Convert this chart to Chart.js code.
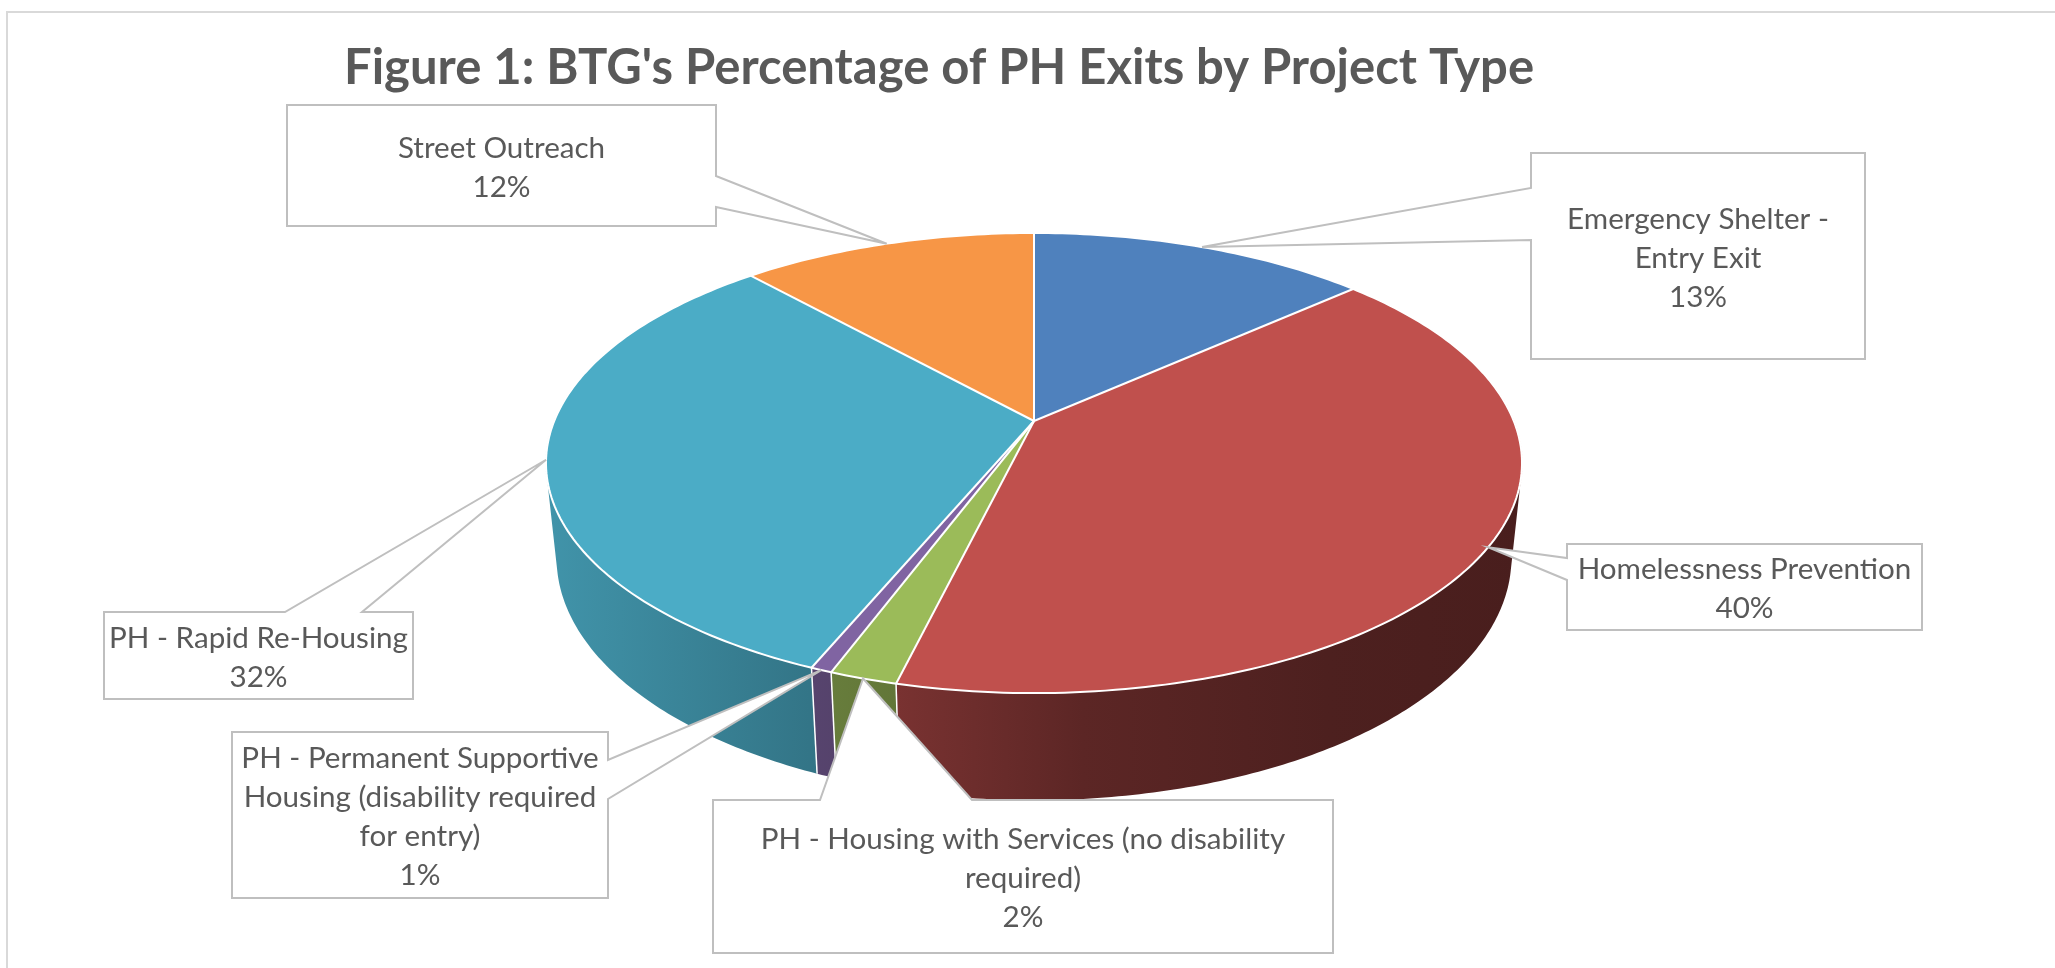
<!DOCTYPE html>
<html>
<head>
<meta charset="utf-8">
<title>Figure 1: BTG's Percentage of PH Exits by Project Type</title>
<script src="https://cdn.jsdelivr.net/npm/chart.js@4.4.1/dist/chart.umd.min.js"></script>
<style>
    html, body { margin: 0; padding: 0; background: #fff; }
    #chartBox { width: 2055px; height: 968px; }
</style>
</head>
<body>
<div id="chartBox"><canvas id="exitsChart" width="2055" height="968"></canvas></div>
<script>
// --- data ---
const projectTypes = [
    'Emergency Shelter - Entry Exit',
    'Homelessness Prevention',
    'PH - Housing with Services (no disability required)',
    'PH - Permanent Supportive Housing (disability required for entry)',
    'PH - Rapid Re-Housing',
    'Street Outreach'
];
const exitShares = [13.4, 40.4, 1.9, 0.6, 32.0, 11.7];
const sliceColors = ['#4F81BD', '#C0504D', '#9BBB59', '#8064A2', '#4BACC6', '#F79646'];
const chartTitle = "Figure 1: BTG's Percentage of PH Exits by Project Type";

// label boxes: [left, top, right, bottom], the side the leader leaves from and where on it
const calloutBoxes = [
    { box: [1531, 153, 1865, 359], side: 'left', base: [188, 240] },
    { box: [1567, 544, 1922, 630], side: 'left', base: [558, 580] },
    { box: [713, 800, 1333, 953], side: 'top', base: [820, 972] },
    { box: [232, 732, 608, 898], side: 'right', base: [760, 799] },
    { box: [104, 612, 413, 699], side: 'top', base: [285, 362] },
    { box: [287, 105, 716, 226], side: 'right', base: [176, 207] }
];

// perspective "camera" for the tilted pie (pie radius = 1)
const view = { x0: 1034, y0: 421, scale: 479.8, sin: 0.4635, cos: 0.8861, dist: 4.85, depth: 0.225 };
// side wall shading from left to right
const sideLight = [[0, 0.86], [0.27, 0.68], [0.36, 0.63], [0.55, 0.48], [0.8, 0.40], [1, 0.38]];

const textColor = '#595959';
const lineColor = '#BFBFBF';

function project(u, v, z) {
    const w = 1 - (view.cos * v + view.sin * z) / view.dist;
    return [view.x0 + view.scale * u / w, view.y0 + view.scale * (view.sin * v - view.cos * z) / w];
}

function shade(hex, f) {
    const n = parseInt(hex.slice(1), 16);
    const r = Math.round(((n >> 16) & 255) * f);
    const g = Math.round(((n >> 8) & 255) * f);
    const b = Math.round((n & 255) * f);
    return `rgb(${r},${g},${b})`;
}

function wrapText(ctx, text, maxWidth) {
    const words = text.split(' ');
    const lines = [];
    let line = '';
    words.forEach(function (w) {
        const test = line ? line + ' ' + w : w;
        if (line && ctx.measureText(test).width > maxWidth) {
            lines.push(line);
            line = w;
        } else {
            line = test;
        }
    });
    if (line) lines.push(line);
    return lines;
}

function drawSides(ctx, arcs) {
    // only the front part of the wall faces the viewer
    const s = 1 / (view.dist * view.cos);
    const aMin = Math.asin(s), aMax = Math.PI - Math.asin(s);
    const gx0 = view.x0 - view.scale * 1.02, gx1 = view.x0 + view.scale * 1.02;

    arcs.forEach(function (arc, i) {
        const a1 = Math.max(arc.startAngle, aMin);
        const a2 = Math.min(arc.endAngle, aMax);
        if (a2 <= a1) return;
        const n = Math.max(2, Math.ceil((a2 - a1) * 80));
        ctx.beginPath();
        for (let k = 0; k <= n; k++) {
            const t = a1 + (a2 - a1) * k / n;
            const p = project(Math.cos(t), Math.sin(t), 0);
            if (k === 0) ctx.moveTo(p[0], p[1]); else ctx.lineTo(p[0], p[1]);
        }
        for (let k = n; k >= 0; k--) {
            const t = a1 + (a2 - a1) * k / n;
            const p = project(Math.cos(t), Math.sin(t), -view.depth);
            ctx.lineTo(p[0], p[1]);
        }
        ctx.closePath();
        const grad = ctx.createLinearGradient(gx0, 0, gx1, 0);
        sideLight.forEach(st => grad.addColorStop(st[0], shade(sliceColors[i], st[1])));
        ctx.fillStyle = grad;
        ctx.fill();
    });

    // white seams between the walls
    ctx.strokeStyle = '#fff';
    ctx.lineWidth = 1.5;
    arcs.forEach(function (arc) {
        const a = arc.startAngle;
        if (a <= aMin || a >= aMax) return;
        const p = project(Math.cos(a), Math.sin(a), 0);
        const q = project(Math.cos(a), Math.sin(a), -view.depth);
        ctx.beginPath();
        ctx.moveTo(p[0], p[1]);
        ctx.lineTo(q[0], q[1]);
        ctx.stroke();
    });
}

function drawTopFace(ctx, chart, arcs) {
    // let Chart.js paint the flat pie off screen, then tilt it row by row
    const off = document.createElement('canvas');
    off.width = chart.width;
    off.height = chart.height;
    const octx = off.getContext('2d');
    arcs.forEach(a => a.draw(octx));

    const cx = arcs[0].x, cy = arcs[0].y, r = arcs[0].outerRadius;
    const A = view.scale * view.sin, C = view.cos / view.dist;
    const yTop = Math.floor(project(0, -1, 0)[1]) - 2;
    const yBot = Math.ceil(project(0, 1, 0)[1]) + 2;
    for (let y = yTop; y <= yBot; y++) {
        const dy = y + 0.5 - view.y0;
        const v = dy / (A + C * dy);
        if (Math.abs(v) > 1.01) continue;
        const k = view.scale / (1 - C * v);
        const dv = A / Math.pow(A + C * dy, 2) * r;
        ctx.drawImage(off, cx - r * 1.02, cy + v * r - dv / 2, r * 2.04, Math.max(dv, 0.5),
            view.x0 - k * 1.02, y, k * 2.04, 1);
    }

    // rim and slice seams
    ctx.strokeStyle = '#fff';
    ctx.lineWidth = 2;
    ctx.beginPath();
    for (let k = 0; k <= 360; k++) {
        const t = k / 360 * Math.PI * 2;
        const p = project(Math.cos(t), Math.sin(t), 0);
        if (k === 0) ctx.moveTo(p[0], p[1]); else ctx.lineTo(p[0], p[1]);
    }
    ctx.stroke();
    const o = project(0, 0, 0);
    arcs.forEach(function (arc) {
        const p = project(Math.cos(arc.startAngle), Math.sin(arc.startAngle), 0);
        ctx.beginPath();
        ctx.moveTo(o[0], o[1]);
        ctx.lineTo(p[0], p[1]);
        ctx.stroke();
    });
}

function drawCallouts(ctx, arcs) {
    const total = exitShares.reduce((s, v) => s + v, 0);
    ctx.font = '29.6px Lato';
    ctx.textAlign = 'center';
    ctx.textBaseline = 'middle';

    calloutBoxes.forEach(function (c, i) {
        const arc = arcs[i];
        const mid = (arc.startAngle + arc.endAngle) / 2;
        const tip = project(Math.cos(mid), Math.sin(mid), 0);
        const [x0, y0, x1, y1] = c.box;
        const [b0, b1] = c.base;
        let pts;
        if (c.side === 'left') {
            pts = [[x0, y0], [x1, y0], [x1, y1], [x0, y1], [x0, b1], tip, [x0, b0]];
        } else if (c.side === 'right') {
            pts = [[x0, y0], [x1, y0], [x1, b0], tip, [x1, b1], [x1, y1], [x0, y1]];
        } else {
            pts = [[x0, y0], [b0, y0], tip, [b1, y0], [x1, y0], [x1, y1], [x0, y1]];
        }
        ctx.beginPath();
        pts.forEach((p, k) => k ? ctx.lineTo(p[0], p[1]) : ctx.moveTo(p[0], p[1]));
        ctx.closePath();
        ctx.fillStyle = '#fff';
        ctx.fill();
        ctx.strokeStyle = lineColor;
        ctx.lineWidth = 2;
        ctx.stroke();

        const lines = wrapText(ctx, projectTypes[i], x1 - x0 - 4);
        lines.push(Math.round(exitShares[i] / total * 100) + '%');
        const lh = 39;
        const cyBox = (y0 + y1) / 2 + 2;
        ctx.fillStyle = textColor;
        lines.forEach(function (txt, k) {
            ctx.fillText(txt, (x0 + x1) / 2, cyBox + (k - (lines.length - 1) / 2) * lh);
        });
    });
}

const pie3d = {
    id: 'pie3d',
    beforeDraw(chart) {
        const ctx = chart.ctx;
        ctx.save();
        ctx.fillStyle = '#fff';
        ctx.fillRect(0, 0, chart.width, chart.height);
        ctx.strokeStyle = '#D9D9D9';
        ctx.lineWidth = 2;
        ctx.strokeRect(7, 12, chart.width + 100, chart.height + 100);
        ctx.fillStyle = textColor;
        ctx.font = 'bold 49px Lato';
        ctx.textAlign = 'center';
        ctx.textBaseline = 'alphabetic';
        ctx.fillText(chartTitle, 939, 84);
        ctx.restore();
    },
    beforeDatasetsDraw(chart) {
        const ctx = chart.ctx;
        const arcs = chart.getDatasetMeta(0).data;
        ctx.save();
        drawSides(ctx, arcs);
        drawTopFace(ctx, chart, arcs);
        ctx.restore();
        return false;
    },
    afterDraw(chart) {
        const ctx = chart.ctx;
        ctx.save();
        drawCallouts(ctx, chart.getDatasetMeta(0).data);
        ctx.restore();
    }
};

new Chart(document.getElementById('exitsChart'), {
    type: 'pie',
    data: {
        labels: projectTypes,
        datasets: [{
            data: exitShares,
            backgroundColor: sliceColors,
            borderWidth: 0
        }]
    },
    options: {
        responsive: false,
        devicePixelRatio: 1,
        animation: false,
        events: [],
        layout: { padding: 20 },
        plugins: {
            legend: { display: false },
            tooltip: { enabled: false },
            title: { display: false }
        }
    },
    plugins: [pie3d]
});
</script>
</body>
</html>
